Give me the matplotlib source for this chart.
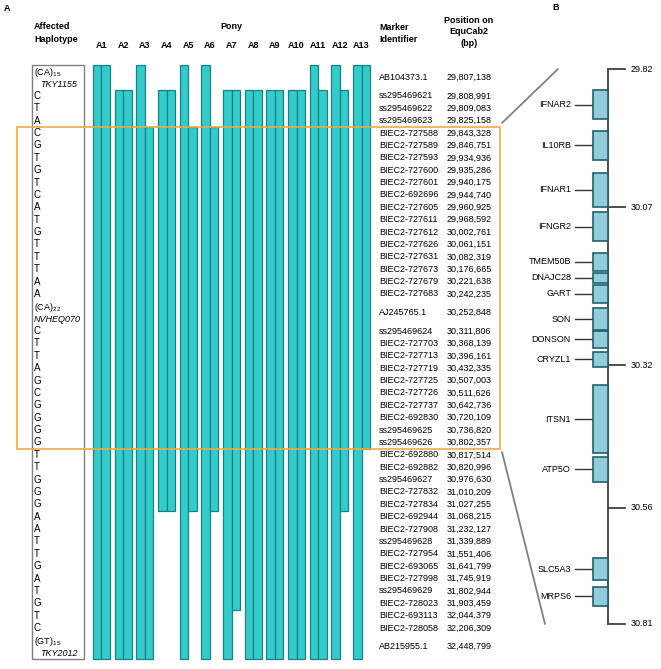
import numpy as np
import matplotlib
matplotlib.use("Agg")
import matplotlib.pyplot as plt
from matplotlib.patches import Rectangle, ConnectionPatch

plt.rcParams["font.family"] = ["Liberation Sans", "DejaVu Sans"]
plt.rcParams["font.size"] = 6.5
plt.rcParams["mathtext.fontset"] = "custom"
plt.rcParams["mathtext.rm"] = "Liberation Sans"
plt.rcParams["mathtext.it"] = "Liberation Sans:italic"

# ── Data: panel A ──────────────────────────────────────────────────────────────
ponies = [f"A{i}" for i in range(1, 14)]

haplotype = ["(CA)15", "C", "T", "A",
             "C", "G", "T", "G", "T", "C", "A", "T", "G", "T", "T", "T", "A", "A",
             "(CA)22", "C", "T", "T", "A", "G", "C", "G", "G", "G", "G",
             "T", "T", "G", "G", "G", "A", "A", "T", "T", "G", "A", "T", "G", "T", "C",
             "(GT)15"]
microsat_names = ["TKY1155", "NVHEQ070", "TKY2012"]

markers = ["AB104373.1", "ss295469621", "ss295469622", "ss295469623",
           "BIEC2-727588", "BIEC2-727589", "BIEC2-727593", "BIEC2-727600",
           "BIEC2-727601", "BIEC2-692696", "BIEC2-727605", "BIEC2-727611",
           "BIEC2-727612", "BIEC2-727626", "BIEC2-727631", "BIEC2-727673",
           "BIEC2-727679", "BIEC2-727683", "AJ245765.1", "ss295469624",
           "BIEC2-727703", "BIEC2-727713", "BIEC2-727719", "BIEC2-727725",
           "BIEC2-727726", "BIEC2-727737", "BIEC2-692830", "ss295469625",
           "ss295469626", "BIEC2-692880", "BIEC2-692882", "ss295469627",
           "BIEC2-727832", "BIEC2-727834", "BIEC2-692944", "BIEC2-727908",
           "ss295469628", "BIEC2-727954", "BIEC2-693065", "BIEC2-727998",
           "ss295469629", "BIEC2-728023", "BIEC2-693113", "BIEC2-728058",
           "AB215955.1"]

positions_bp = [29807138, 29808991, 29809083, 29825158, 29843328, 29846751,
                29934936, 29935286, 29940175, 29944740, 29960925, 29968592,
                30002761, 30061151, 30082319, 30176665, 30221638, 30242235,
                30252848, 30311806, 30368139, 30396161, 30432335, 30507003,
                30511626, 30642736, 30720109, 30736820, 30802357, 30817514,
                30820996, 30976630, 31010209, 31027255, 31068215, 31232127,
                31339889, 31551406, 31641799, 31745919, 31802944, 31903459,
                32044379, 32206309, 32448799]

# first / last marker row carried by each of the two haplotypes per pony
hap1_start = [0, 1, 0, 1, 0, 0, 1, 1, 1, 1, 0, 0, 0]
hap1_end   = [44, 44, 44, 33, 44, 44, 44, 44, 44, 44, 44, 44, 44]
hap2_start = [0, 1, 4, 1, 4, 4, 1, 1, 1, 1, 1, 1, 0]
hap2_end   = [44, 44, 44, 33, 33, 33, 41, 44, 44, 44, 44, 33, 28]

critical_rows = (4, 28)

# ── Data: panel B ──────────────────────────────────────────────────────────────
scale_mb = [29.82, 30.07, 30.32, 30.56, 30.81]
genes      = ["IFNAR2", "IL10RB", "IFNAR1", "IFNGR2", "TMEM50B", "DNAJC28", "GART",
              "SON", "DONSON", "CRYZL1", "ITSN1", "ATP5O", "SLC5A3", "MRPS6"]
gene_start = [29.858, 29.932, 30.008, 30.078, 30.143, 30.174, 30.193,
              30.230, 30.266, 30.299, 30.354, 30.474, 30.668, 30.730]
gene_end   = [29.911, 29.985, 30.070, 30.124, 30.171, 30.190, 30.222,
              30.265, 30.293, 30.323, 30.468, 30.516, 30.715, 30.771]

# ── Styling / layout ───────────────────────────────────────────────────────────
W, H = 661, 669
BAR_FC, BAR_EC = "#33CCCC", "#1B8080"
ORANGE = "#F5A742"
GREY = "#808080"
GENE_FC, GENE_EC = "#92CDDC", "#215E6E"

PONY_PX0, PONY_STEP = 101.5, 21.67    # A1 centre / pony spacing in px
ROW_PX0, ROW_STEP = 65, 12.375         # top of first row / px per row unit


def px2x(px):
    return 1 + (px - PONY_PX0) / PONY_STEP


def py2y(py):
    return (py - ROW_PX0) / ROW_STEP


fig = plt.figure(figsize=(W / 100, H / 100), dpi=100)
fig.patch.set_facecolor("white")

# ── Panel A ────────────────────────────────────────────────────────────────────
axA = fig.add_axes([0, 0, 520 / W, 1])
axA.set_xlim(px2x(0), px2x(520))
axA.set_ylim(py2y(H), py2y(0))
axA.axis("off")

is_ms = np.array([a.startswith("(") for a in haplotype])
row_h = np.where(is_ms, 2.0, 1.0)
row_bot = np.cumsum(row_h)
row_top = row_bot - row_h
row_mid = row_top + row_h / 2

bw = 8.5 / PONY_STEP
for i in range(len(ponies)):
    xc = i + 1
    for off, s, e in ((-bw / 2, hap1_start[i], hap1_end[i]),
                      (bw / 2, hap2_start[i], hap2_end[i])):
        axA.bar(xc + off, row_bot[e] - row_top[s], bottom=row_top[s], width=bw,
                color=BAR_FC, edgecolor=BAR_EC, linewidth=0.9, zorder=3)
    axA.text(xc, py2y(45), ponies[i], ha="center", va="center", fontweight="bold")

# haplotype column + marker table
ms_iter = iter(microsat_names)
for r, a in enumerate(haplotype):
    if is_ms[r]:
        name = next(ms_iter)
        axA.text(px2x(34), row_mid[r] - 0.42, a[:4] + "$_{" + a[4:] + "}$",
                 ha="left", va="center")
        x_name = px2x(40) if name.startswith("TKY") else px2x(34)
        axA.text(x_name, row_mid[r] + 0.55, name, ha="left", va="center",
                 style="italic")
    else:
        axA.text(px2x(34), row_mid[r], a, ha="left", va="center", fontsize=7)
    axA.text(px2x(379), row_mid[r], markers[r], ha="left", va="center")
    axA.text(px2x(447), row_mid[r], f"{positions_bp[r]:,}", ha="left", va="center")

axA.add_patch(Rectangle((px2x(32), row_top[0]), px2x(84) - px2x(32),
                        row_bot[-1] - row_top[0], fill=False,
                        edgecolor=GREY, linewidth=1.0, zorder=4))
c0, c1 = critical_rows
axA.add_patch(Rectangle((px2x(17), row_top[c0]), px2x(500) - px2x(17),
                        row_bot[c1] - row_top[c0], fill=False,
                        edgecolor=ORANGE, linewidth=1.3, alpha=0.9, zorder=5))

# headers
axA.text(px2x(4), py2y(8), "A", ha="left", va="center", fontweight="bold")
axA.text(px2x(34), py2y(26), "Affected", ha="left", va="center", fontweight="bold")
axA.text(px2x(34), py2y(39), "Haplotype", ha="left", va="center", fontweight="bold")
axA.text(7, py2y(26), "Pony", ha="center", va="center", fontweight="bold")
axA.text(px2x(379), py2y(27), "Marker", ha="left", va="center", fontweight="bold")
axA.text(px2x(379), py2y(39), "Identifier", ha="left", va="center", fontweight="bold")
for t, py in (("Position on", 20), ("EquCab2", 31), ("(bp)", 43)):
    axA.text(px2x(469), py2y(py), t, ha="center", va="center", fontweight="bold")

# ── Panel B ────────────────────────────────────────────────────────────────────
knot_px = [69, 207, 365, 508, 624]   # schematic (non-linear) spacing of the scale


def fwd(y):
    return np.interp(y, scale_mb, knot_px)


def inv(p):
    return np.interp(p, knot_px, scale_mb)


axB = fig.add_axes([520 / W, 1 - 624 / H, 141 / W, (624 - 69) / H])
axB.set_yscale("function", functions=(fwd, inv))
axB.set_xlim(520, 661)
axB.set_ylim(scale_mb[-1], scale_mb[0])
axB.axis("off")

axB.plot([608, 608], [scale_mb[0], scale_mb[-1]], color="#404040", lw=1.3,
         clip_on=False, zorder=2)
for v in scale_mb:
    axB.plot([608, 625], [v, v], color="#404040", lw=1.3, clip_on=False)
    axB.text(631, v, f"{v:.2f}", ha="left", va="center")

for g, s, e in zip(genes, gene_start, gene_end):
    axB.add_patch(Rectangle((593, s), 15, e - s, facecolor=GENE_FC,
                            edgecolor=GENE_EC, linewidth=1.2, zorder=3))
    mid = (s + e) / 2
    axB.plot([575, 592], [mid, mid], color="#333333", lw=1.0)
    axB.text(571, mid, g, ha="right", va="center")

fig.text(556 / W, 1 - 8 / H, "B", ha="center", va="center", fontweight="bold")

# zoom lines from the critical region to panel B
for yA, xB, yB in ((py2y(123), 558, scale_mb[0]), (py2y(452), 545, scale_mb[-1])):
    con = ConnectionPatch(xyA=(px2x(502), yA), coordsA=axA.transData,
                          xyB=(xB, yB), coordsB=axB.transData,
                          color=GREY, linewidth=1.3)
    fig.add_artist(con)

fig.savefig("out.png", dpi=100, facecolor="white")
